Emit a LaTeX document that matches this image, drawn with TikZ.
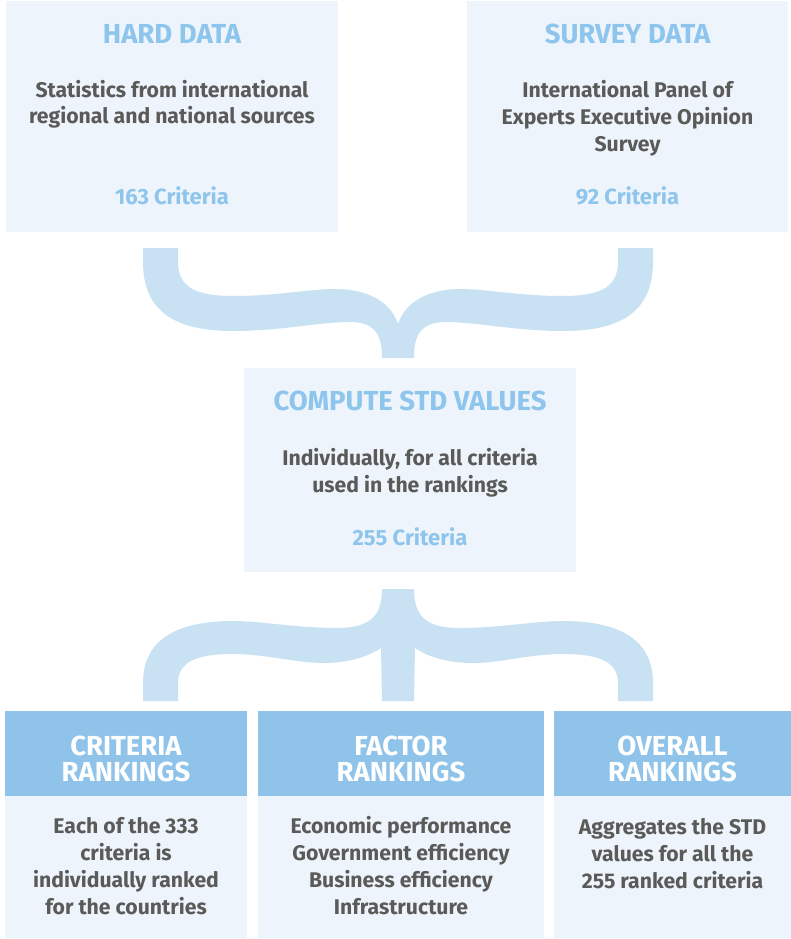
\documentclass[tikz,border=0pt]{standalone}
\usepackage{fontspec}
\setmainfont{Fira Sans}
\definecolor{boxfill}{HTML}{EEF4FB}
\definecolor{headblue}{HTML}{8FC3EA}
\definecolor{titleblue}{HTML}{8EC5EC}
\definecolor{bracefill}{HTML}{C8E2F4}
\definecolor{textgrey}{HTML}{5A5A59}

\tikzset{
	panel/.style={fill=boxfill, inner sep=0pt, anchor=north west},
	headband/.style={fill=headblue, inner sep=0pt, anchor=north west},
	title/.style={font=\bfseries\fontsize{27.5}{26}\selectfont, text=titleblue, anchor=base, inner sep=0pt},
	headtext/.style={font=\bfseries\fontsize{27.5}{26}\selectfont, text=white, align=center, anchor=base, inner sep=0pt},
	body/.style={font=\bfseries\fontsize{21.2}{26.7}\selectfont, text=textgrey, align=center, anchor=base, inner sep=0pt},
	count/.style={font=\bfseries\fontsize{22}{26.7}\selectfont, text=titleblue, anchor=base, inner sep=0pt},
}

\begin{document}
\begin{tikzpicture}[x=1pt, y=-1pt]
			%%%%% START %%%%%
			
			\fill[white] (0, 0) rectangle (791, 939);
			\useasboundingbox (0, 0) rectangle (791, 939);
			
			% sources (multi-line texts sit on their last baseline)
			\node[panel, minimum width=332pt, minimum height=231pt] (hard) at (6, 1) {};
			\node[title] (hardtitle) at (172, 44) {HARD DATA};
			\node[body] (hardtext) at (172, 124) {Statistics from international\\regional and national sources};
			\node[count] (hardcount) at (172, 204) {163 Criteria};
			
			\node[panel, minimum width=321pt, minimum height=231pt] (survey) at (467, 1) {};
			\node[title] (surveytitle) at (627.5, 44) {SURVEY DATA};
			\node[body] (surveytext) at (627.5, 151) {International Panel of\\Experts Executive Opinion\\Survey};
			\node[count] (surveycount) at (627.5, 204) {92 Criteria};
			
			% upper brace
			\fill[bracefill] (143, 248) -- (178, 248) -- (178, 262)
				.. controls (178, 290) and (200, 296) .. (235, 296)
				.. controls (275, 296) and (310, 289) .. (335, 289)
				.. controls (365, 289) and (390, 300) .. (398, 324)
				.. controls (406, 300) and (431, 289) .. (461, 289)
				.. controls (486, 289) and (521, 296) .. (561, 296)
				.. controls (596, 296) and (618, 290) .. (618, 262)
				-- (618, 248) -- (653, 248) -- (653, 262)
				.. controls (653, 315) and (616, 331) .. (563, 331)
				.. controls (516, 331) and (476, 322) .. (446, 322)
				.. controls (421, 322) and (414, 335) .. (414, 357)
				-- (414, 358) -- (382, 358) -- (382, 357)
				.. controls (382, 335) and (375, 322) .. (350, 322)
				.. controls (320, 322) and (280, 331) .. (233, 331)
				.. controls (180, 331) and (143, 315) .. (143, 262) -- cycle;
			
			% standardised values
			\node[panel, minimum width=332pt, minimum height=204pt] (compute) at (244, 368) {};
			\node[title] (computetitle) at (410, 410) {COMPUTE STD VALUES};
			\node[body] (computetext) at (410, 492) {Individually, for all criteria\\used in the rankings};
			\node[count] (computecount) at (410, 545) {255 Criteria};
			
			% lower brace
			\fill[bracefill] (382, 589) -- (414, 589)
				.. controls (414, 615) and (425, 628) .. (459, 628)
				.. controls (500, 628) and (535, 621) .. (563, 621)
				.. controls (620, 621) and (653, 640) .. (653, 683)
				-- (653, 701) -- (618, 701) -- (618, 683)
				.. controls (618, 662) and (600, 654) .. (563, 654)
				.. controls (530, 654) and (500, 663) .. (473, 663)
				.. controls (450, 663) and (430, 658) .. (415, 648)
				-- (414, 701) -- (382, 701) -- (381, 648)
				.. controls (366, 658) and (346, 663) .. (323, 663)
				.. controls (296, 663) and (266, 654) .. (233, 654)
				.. controls (196, 654) and (178, 662) .. (178, 683)
				-- (178, 701) -- (143, 701) -- (143, 683)
				.. controls (143, 640) and (176, 621) .. (233, 621)
				.. controls (261, 621) and (296, 628) .. (337, 628)
				.. controls (371, 628) and (382, 615) .. (382, 589) -- cycle;
			
			% rankings
			\node[panel, minimum width=242pt, minimum height=227pt] (criteria) at (5, 711) {};
			\node[headband, minimum width=242pt, minimum height=85pt] (criteriahead) at (5, 711) {};
			\node[headtext] (criteriatitle) at (126, 781) {CRITERIA\\RANKINGS};
			\node[body] (criteriatext) at (126, 914) {Each of the 333\\criteria is\\individually ranked\\for the countries};
			
			\node[panel, minimum width=286pt, minimum height=227pt] (factor) at (258, 711) {};
			\node[headband, minimum width=286pt, minimum height=85pt] (factorhead) at (258, 711) {};
			\node[headtext] (factortitle) at (401, 781) {FACTOR\\RANKINGS};
			\node[body] (factortext) at (401, 914) {Economic performance\\Government efficiency\\Business efficiency\\Infrastructure};
			
			\node[panel, minimum width=237pt, minimum height=227pt] (overall) at (554, 711) {};
			\node[headband, minimum width=237pt, minimum height=85pt] (overallhead) at (554, 711) {};
			\node[headtext] (overalltitle) at (672.5, 781) {OVERALL\\RANKINGS};
			\node[body] (overalltext) at (672.5, 888) {Aggregates the STD\\values for all the\\255 ranked criteria};
			
			%%%%% END %%%%%
\end{tikzpicture}
\end{document}
